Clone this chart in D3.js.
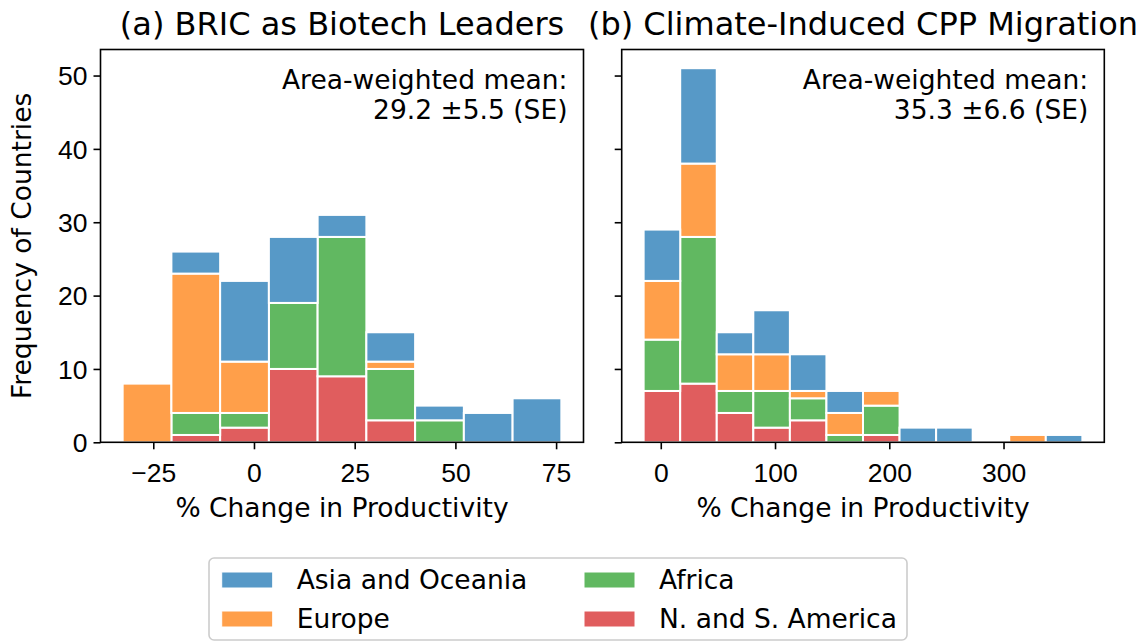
<!DOCTYPE html>
<html>
<head>
<meta charset="utf-8">
<script src="https://cdn.jsdelivr.net/npm/d3@7"></script>
<style>
  html, body { margin: 0; padding: 0; background: #fff; }
  svg { display: block; font-family: "DejaVu Sans", sans-serif; }
</style>
</head>
<body>
<svg id="chart" width="1143" height="643"></svg>
<script>
// ---------------- data ----------------
const regions = ["N. and S. America", "Africa", "Europe", "Asia and Oceania"]; // stack order, bottom-up
const legendOrder = ["Asia and Oceania", "Europe", "Africa", "N. and S. America"];
const regionColors = ["#d62728", "#2ca02c", "#ff7f0e", "#1f77b4"];

const titleA = "(a) BRIC as Biotech Leaders";
const titleB = "(b) Climate-Induced CPP Migration";
const noteA = ["Area-weighted mean:", "29.2 \u00b15.5 (SE)"];
const noteB = ["Area-weighted mean:", "35.3 \u00b16.6 (SE)"];
const xLabel = "% Change in Productivity";
const yLabel = "Frequency of Countries";

const binEdgesA = [-32.6, -20.5, -8.4, 3.7, 15.8, 27.9, 40.0, 52.1, 64.2, 76.3];
const americaA  = [0, 1, 2, 10, 9, 3, 0, 0, 0];
const africaA   = [0, 3, 2, 9, 19, 7, 3, 0, 0];
const europeA   = [8, 19, 7, 0, 0, 1, 0, 0, 0];
const asiaA     = [0, 3, 11, 9, 3, 4, 2, 4, 6];

const binEdgesB = [-15, 17, 49, 81, 113, 145, 177, 209, 241, 273, 305, 337, 369];
const americaB  = [7, 8, 4, 2, 3, 0, 1, 0, 0, 0, 0, 0];
const africaB   = [7, 20, 3, 5, 3, 1, 4, 0, 0, 0, 0, 0];
const europeB   = [8, 10, 5, 5, 1, 3, 2, 0, 0, 0, 1, 0];
const asiaB     = [7, 13, 3, 6, 5, 3, 0, 2, 2, 0, 0, 1];

const yTicks  = [0, 10, 20, 30, 40, 50];
const xTicksA = [-25, 0, 25, 50, 75];
const xTicksB = [0, 100, 200, 300];

// ---------------- layout ----------------
const svg = d3.select("#chart");
const FONT = 26.5;
const TITLE_FONT = 32;
const plotTop = 49.5, plotBottom = 442.3;
const y = d3.scaleLinear().domain([0, 53.55]).range([plotBottom, plotTop]);
const color = d3.scaleOrdinal().domain(regions).range(regionColors);

function panel(opts) {
  const { x0, x1, domain, edges, series, xTicks, title, note, showYLabels } = opts;
  const x = d3.scaleLinear().domain(domain).range([x0, x1]);
  const g = svg.append("g");

  const rows = edges.slice(0, -1).map((e, i) => {
    const r = { x0: e, x1: edges[i + 1] };
    regions.forEach((k, j) => r[k] = series[j][i]);
    return r;
  });
  const stacked = d3.stack().keys(regions)(rows);

  stacked.forEach(layer => {
    g.append("g")
      .selectAll("rect")
      .data(layer.filter(d => d[1] - d[0] > 0))
      .join("rect")
      .attr("x", d => x(d.data.x0))
      .attr("width", d => x(d.data.x1) - x(d.data.x0))
      .attr("y", d => y(d[1]))
      .attr("height", d => y(d[0]) - y(d[1]))
      .attr("fill", color(layer.key))
      .attr("fill-opacity", 0.75)
      .attr("stroke", "#fff")
      .attr("stroke-width", 2);
  });

  const xa = g.append("g").attr("transform", `translate(0,${plotBottom})`)
    .call(d3.axisBottom(x).tickValues(xTicks).tickSize(7).tickPadding(6).tickFormat(d3.format("d")));
  xa.select(".domain").remove();
  xa.selectAll("line").attr("stroke", "#000").attr("stroke-width", 1.6);
  xa.selectAll("text").attr("font-size", FONT).attr("fill", "#000")
    .attr("dy", null).attr("y", 39.5);

  const ya = g.append("g").attr("transform", `translate(${x0},0)`)
    .call(d3.axisLeft(y).tickValues(yTicks).tickSize(7).tickPadding(6).tickFormat(showYLabels ? d3.format("d") : ""));
  ya.select(".domain").remove();
  ya.selectAll("line").attr("stroke", "#000").attr("stroke-width", 1.6);
  ya.selectAll("text").attr("font-size", FONT).attr("fill", "#000").attr("dy", "0.35em").attr("x", -13);

  g.append("rect").attr("x", x0).attr("y", plotTop).attr("width", x1 - x0).attr("height", plotBottom - plotTop)
    .attr("fill", "none").attr("stroke", "#000").attr("stroke-width", 1.6);

  g.append("text").attr("x", (x0 + x1) / 2).attr("y", 35).attr("text-anchor", "middle")
    .attr("font-size", TITLE_FONT).attr("fill", "#000").text(title);

  g.append("text").attr("x", (x0 + x1) / 2).attr("y", 517).attr("text-anchor", "middle")
    .attr("font-size", FONT).attr("fill", "#000").text(xLabel);

  note.forEach((t, i) => {
    g.append("text").attr("x", x1 - 16).attr("y", 89 + i * 30).attr("text-anchor", "end")
      .attr("font-size", FONT).attr("fill", "#000").text(t);
  });
}

panel({
  x0: 100.5, x1: 583.5, domain: [-38.1, 81.8], edges: binEdgesA,
  series: [americaA, africaA, europeA, asiaA], xTicks: xTicksA,
  title: titleA, note: noteA, showYLabels: true
});
panel({
  x0: 621.7, x1: 1104.3, domain: [-34.2, 388.2], edges: binEdgesB,
  series: [americaB, africaB, europeB, asiaB], xTicks: xTicksB,
  title: titleB, note: noteB, showYLabels: false
});

svg.append("text")
  .attr("transform", `translate(30.5,${(plotTop + plotBottom) / 2}) rotate(-90)`)
  .attr("text-anchor", "middle").attr("font-size", FONT).attr("fill", "#000").text(yLabel);

// ---------------- legend ----------------
const lg = svg.append("g");
lg.append("rect").attr("x", 209).attr("y", 558).attr("width", 698).attr("height", 82)
  .attr("rx", 5).attr("fill", "#fff").attr("fill-opacity", 0.8)
  .attr("stroke", "#cccccc").attr("stroke-width", 1.6);
const colX = [221.7, 584];
const rowY = [572, 611];
legendOrder.forEach((name, i) => {
  const c = Math.floor(i / 2), r = i % 2;
  lg.append("rect").attr("x", colX[c]).attr("y", rowY[r]).attr("width", 51).attr("height", 16)
    .attr("fill", color(name)).attr("fill-opacity", 0.75).attr("stroke", "#fff").attr("stroke-width", 1);
  lg.append("text").attr("x", colX[c] + 75).attr("y", rowY[r] + 17)
    .attr("font-size", FONT).attr("fill", "#000").text(name);
});
</script>
</body>
</html>
